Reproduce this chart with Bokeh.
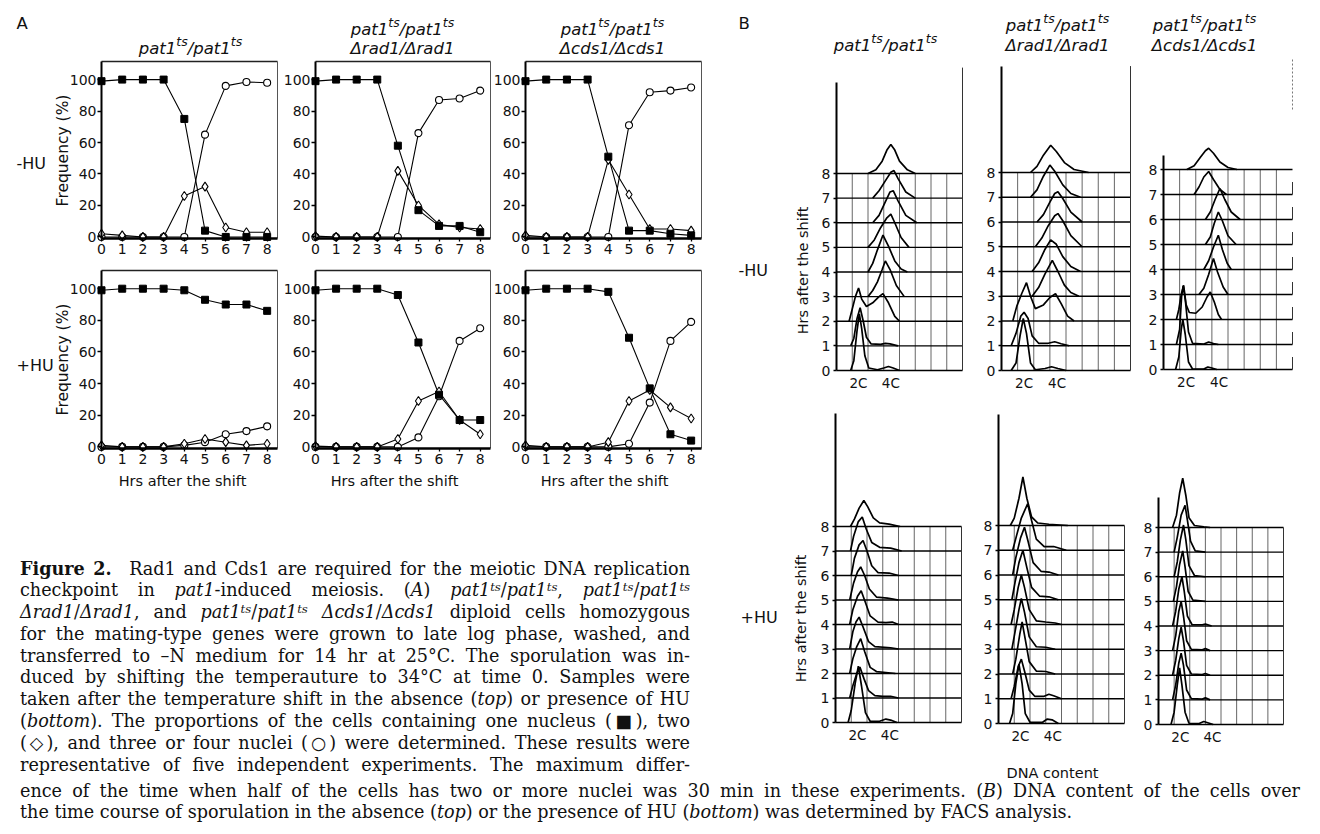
import math
from bokeh.plotting import figure
from bokeh.models import Range1d, LinearAxis, FixedTicker, Div
from bokeh.layouts import column, row
from bokeh.embed import file_html
from bokeh.resources import INLINE
from bokeh.core.properties import value

# ------------------------------------------------------------------ data
hours = [0, 1, 2, 3, 4, 5, 6, 7, 8]
freq_ticks = [0, 20, 40, 60, 80, 100]

# Panel A: % of cells with one nucleus (square), two (diamond), three/four (circle)
pat1_noHU_one = [99, 100, 100, 100, 75, 4, 0, 0, 0]
pat1_noHU_two = [2, 1, 0, 0, 26, 32, 6, 3, 3]
pat1_noHU_three = [0, 0, 0, 0, 0, 65, 96, 98.5, 98]
rad1_noHU_one = [99, 100, 100, 100, 58, 17, 7, 7, 3]
rad1_noHU_two = [0.5, 0, 0, 0, 42, 20, 8, 6, 5]
rad1_noHU_three = [0, 0, 0, 0, 0, 66, 87, 88, 93]
cds1_noHU_one = [99, 100, 100, 100, 51, 4, 4, 2, 1]
cds1_noHU_two = [1, 0, 0, 0, 49, 27, 5, 5, 4]
cds1_noHU_three = [0, 0, 0, 0, 0, 71, 92, 93, 95]
pat1_HU_one = [99, 100, 100, 100, 99, 93, 90, 90, 86]
pat1_HU_two = [1, 0, 0, 0, 2, 5, 3, 1, 2]
pat1_HU_three = [0, 0, 0, 0, 1, 3, 8, 10, 13]
rad1_HU_one = [99, 100, 100, 100, 96, 66, 33, 17, 17]
rad1_HU_two = [0.5, 0, 0, 0, 5, 29, 35, 17, 8]
rad1_HU_three = [0, 0, 0, 0, 0, 6, 32, 67, 75]
cds1_HU_one = [99, 100, 100, 100, 98, 69, 37, 8, 4]
cds1_HU_two = [1, 0, 0, 0, 3, 29, 36, 25, 18]
cds1_HU_three = [0, 0, 0, 0, 0, 2, 28, 67, 79]

# Panel B: FACS profiles, one curve per hour (0..8); points are (DNA content, height)
facs_hours = [0, 1, 2, 3, 4, 5, 6, 7, 8]
dna_grid = [0, 1, 2, 3, 4, 5, 6, 7, 8]
dna_ticks = [1.4, 3.45]
dna_labels = ["2C", "4C"]

facs_pat1_noHU = [
    [(0.9, 0), (1.1, 0.4), (1.3, 1.6), (1.45, 2.3), (1.6, 1.7), (1.8, 0.6), (2.05, 0.1), (2.6, 0.03), (3.0, 0.1), (3.3, 0.16), (3.6, 0.1), (4.0, 0)],
    [(0.9, 0), (1.1, 0.3), (1.3, 1.1), (1.5, 1.55), (1.7, 1.0), (1.9, 0.35), (2.2, 0.08), (2.8, 0.06), (3.1, 0.1), (3.4, 0.08), (3.9, 0)],
    [(0.8, 0), (1.0, 0.5), (1.2, 1.0), (1.4, 1.35), (1.6, 0.9), (1.9, 0.6), (2.3, 0.75), (2.7, 1.0), (2.95, 1.12), (3.3, 0.75), (3.7, 0.2), (4.0, 0)],
    [(2.0, 0), (2.3, 0.25), (2.6, 0.6), (2.9, 1.1), (3.1, 1.45), (3.4, 1.1), (3.8, 0.45), (4.3, 0)],
    [(2.0, 0), (2.3, 0.35), (2.6, 0.9), (2.95, 1.5), (3.3, 1.05), (3.7, 0.45), (4.1, 0.12), (4.5, 0)],
    [(2.0, 0), (2.4, 0.3), (2.8, 0.8), (3.2, 1.2), (3.45, 1.35), (3.7, 1.0), (4.1, 0.4), (4.6, 0)],
    [(2.3, 0), (2.7, 0.3), (3.1, 0.85), (3.4, 1.25), (3.6, 1.3), (3.9, 0.9), (4.4, 0.3), (5.1, 0)],
    [(2.3, 0), (2.7, 0.3), (3.1, 0.7), (3.45, 1.05), (3.65, 1.12), (3.9, 0.8), (4.4, 0.25), (5.0, 0)],
    [(2.0, 0), (2.5, 0.15), (2.9, 0.5), (3.2, 0.95), (3.45, 1.18), (3.7, 0.95), (4.0, 0.5), (4.5, 0.15), (5.0, 0)],
]
facs_rad1_noHU = [
    [(0.6, 0), (0.9, 0.3), (1.15, 1.4), (1.35, 2.1), (1.55, 1.5), (1.8, 0.3), (2.1, 0.03), (2.7, 0.08), (3.1, 0.15), (3.5, 0.08), (4.0, 0)],
    [(0.6, 0), (0.9, 0.5), (1.2, 1.2), (1.4, 1.35), (1.65, 1.1), (1.9, 0.4), (2.3, 0.1), (2.9, 0.1), (3.3, 0.16), (3.7, 0.08), (4.2, 0)],
    [(0.7, 0), (0.95, 0.6), (1.25, 1.1), (1.55, 1.55), (1.8, 1.0), (2.1, 0.5), (2.6, 0.65), (3.0, 0.95), (3.35, 1.1), (3.7, 0.7), (4.1, 0.2), (4.5, 0)],
    [(1.9, 0), (2.3, 0.35), (2.7, 0.9), (3.15, 1.45), (3.5, 1.0), (3.9, 0.45), (4.3, 0.15), (4.8, 0)],
    [(1.9, 0), (2.3, 0.35), (2.7, 0.9), (3.05, 1.28), (3.4, 1.1), (3.8, 0.6), (4.3, 0.2), (4.9, 0)],
    [(2.1, 0), (2.5, 0.35), (2.9, 0.85), (3.3, 1.25), (3.5, 1.34), (3.8, 1.05), (4.3, 0.45), (5.0, 0)],
    [(2.2, 0), (2.6, 0.3), (3.0, 0.8), (3.3, 1.15), (3.5, 1.22), (3.8, 0.95), (4.3, 0.4), (5.0, 0)],
    [(1.8, 0), (2.2, 0.3), (2.6, 0.85), (3.0, 1.3), (3.3, 1.05), (3.8, 0.5), (4.3, 0.15), (4.9, 0)],
    [(1.8, 0), (2.2, 0.25), (2.6, 0.7), (3.05, 1.1), (3.4, 0.85), (3.9, 0.4), (4.5, 0.12), (5.4, 0)],
]
facs_cds1_noHU = [
    [(0.75, 0), (0.95, 0.5), (1.1, 1.6), (1.2, 2.0), (1.35, 1.4), (1.55, 0.3), (1.8, 0.02), (2.5, 0.02), (2.75, 0.1), (3.0, 0.06), (3.3, 0)],
    [(0.8, 0), (1.0, 0.6), (1.12, 1.9), (1.22, 2.35), (1.35, 1.8), (1.55, 0.5), (1.8, 0.05), (2.5, 0.02), (2.8, 0.1), (3.1, 0.04), (3.4, 0)],
    [(0.8, 0), (0.95, 0.4), (1.1, 1.0), (1.25, 1.37), (1.4, 0.6), (1.6, 0.28), (2.0, 0.25), (2.4, 0.5), (2.7, 0.9), (2.9, 1.1), (3.15, 0.7), (3.4, 0.2), (3.6, 0)],
    [(2.2, 0), (2.5, 0.25), (2.8, 0.8), (3.1, 1.44), (3.35, 0.9), (3.7, 0.3), (4.0, 0)],
    [(2.5, 0), (2.8, 0.35), (3.1, 0.9), (3.4, 1.37), (3.65, 0.8), (3.95, 0.25), (4.2, 0)],
    [(2.6, 0), (2.9, 0.3), (3.15, 0.85), (3.4, 1.3), (3.65, 0.95), (4.0, 0.35), (4.5, 0)],
    [(2.6, 0), (2.9, 0.3), (3.2, 0.8), (3.5, 1.24), (3.8, 0.8), (4.2, 0.3), (4.75, 0)],
    [(1.9, 0), (2.2, 0.3), (2.5, 0.7), (2.8, 0.92), (3.1, 0.6), (3.5, 0.2), (3.9, 0)],
    [(1.45, 0), (1.9, 0.15), (2.3, 0.5), (2.6, 0.75), (2.8, 0.85), (3.1, 0.65), (3.5, 0.3), (4.0, 0.08), (4.55, 0)],
]
facs_pat1_HU = [
    [(0.8, 0), (1.0, 0.5), (1.25, 1.6), (1.45, 2.3), (1.65, 1.5), (1.9, 0.4), (2.2, 0.05), (2.8, 0.05), (3.2, 0.14), (3.5, 0.1), (3.9, 0)],
    [(0.9, 0), (1.1, 0.5), (1.35, 1.0), (1.55, 1.26), (1.8, 0.8), (2.1, 0.3), (2.5, 0.1), (3.0, 0.07), (3.5, 0.07), (4.0, 0)],
    [(0.9, 0), (1.1, 0.6), (1.35, 1.1), (1.6, 1.42), (1.85, 0.9), (2.2, 0.25), (2.6, 0.08), (3.2, 0.04), (3.8, 0)],
    [(0.9, 0), (1.1, 0.7), (1.3, 1.1), (1.5, 1.3), (1.75, 0.9), (2.1, 0.3), (2.5, 0.1), (3.5, 0.05), (4.0, 0)],
    [(0.9, 0), (1.1, 0.6), (1.4, 1.15), (1.63, 1.38), (1.9, 0.9), (2.2, 0.35), (2.7, 0.1), (3.2, 0.08), (3.6, 0.1), (4.0, 0)],
    [(0.9, 0), (1.15, 0.7), (1.4, 1.15), (1.6, 1.35), (1.85, 1.0), (2.15, 0.45), (2.6, 0.12), (3.3, 0.08), (4.0, 0)],
    [(1.0, 0), (1.2, 0.7), (1.5, 1.25), (1.75, 1.43), (2.0, 1.0), (2.3, 0.4), (2.7, 0.12), (3.4, 0.1), (4.0, 0)],
    [(0.95, 0), (1.15, 0.6), (1.45, 1.2), (1.7, 1.39), (1.95, 0.9), (2.3, 0.35), (2.8, 0.15), (3.5, 0.12), (4.2, 0)],
    [(0.95, 0), (1.2, 0.3), (1.5, 0.75), (1.8, 1.06), (2.05, 0.8), (2.4, 0.35), (2.8, 0.15), (3.4, 0.1), (4.1, 0)],
]
facs_rad1_HU = [
    [(0.7, 0), (0.9, 0.4), (1.1, 1.6), (1.3, 2.4), (1.5, 1.6), (1.7, 0.4), (2.0, 0.05), (2.8, 0.05), (3.1, 0.18), (3.4, 0.15), (3.8, 0)],
    [(0.8, 0), (1.0, 0.5), (1.25, 1.3), (1.45, 1.6), (1.7, 1.0), (1.95, 0.35), (2.3, 0.1), (2.9, 0.1), (3.2, 0.18), (3.5, 0.12), (4.0, 0)],
    [(0.9, 0), (1.1, 0.6), (1.35, 1.6), (1.5, 2.1), (1.7, 1.4), (1.95, 0.5), (2.4, 0.12), (3.0, 0.1), (3.6, 0)],
    [(0.85, 0), (1.05, 0.7), (1.3, 1.6), (1.45, 2.05), (1.65, 1.5), (1.95, 0.5), (2.4, 0.1), (3.0, 0.08), (3.6, 0)],
    [(0.8, 0), (1.0, 0.6), (1.25, 1.5), (1.45, 2.0), (1.65, 1.5), (1.95, 0.6), (2.4, 0.15), (3.0, 0.1), (3.6, 0.06), (4.0, 0)],
    [(0.85, 0), (1.05, 0.7), (1.3, 1.5), (1.55, 2.0), (1.8, 1.3), (2.1, 0.5), (2.6, 0.15), (3.2, 0.12), (3.8, 0)],
    [(0.9, 0), (1.1, 0.7), (1.4, 1.5), (1.65, 1.93), (1.9, 1.3), (2.2, 0.5), (2.7, 0.15), (3.2, 0.12), (3.8, 0)],
    [(0.9, 0), (1.15, 0.6), (1.45, 1.3), (1.85, 1.88), (2.1, 1.2), (2.4, 0.45), (2.9, 0.15), (3.5, 0.15), (4.3, 0)],
    [(0.75, 0), (1.0, 0.3), (1.3, 1.1), (1.55, 1.96), (1.8, 1.1), (2.1, 0.35), (2.5, 0.1), (3.2, 0.05), (4.4, 0)],
]
facs_cds1_HU = [
    [(0.8, 0), (1.0, 0.5), (1.2, 1.6), (1.35, 2.3), (1.5, 1.6), (1.7, 0.5), (1.95, 0.05), (2.6, 0.04), (2.9, 0.12), (3.2, 0.06), (3.5, 0)],
    [(0.9, 0), (1.1, 0.6), (1.3, 1.5), (1.45, 1.9), (1.6, 1.4), (1.8, 0.4), (2.1, 0.05), (2.8, 0.03), (3.0, 0.08), (3.3, 0)],
    [(0.9, 0), (1.1, 0.6), (1.3, 1.5), (1.45, 1.95), (1.6, 1.4), (1.8, 0.4), (2.1, 0.05), (2.8, 0.03), (3.0, 0.07), (3.3, 0)],
    [(0.9, 0), (1.1, 0.6), (1.3, 1.6), (1.45, 2.0), (1.6, 1.4), (1.8, 0.4), (2.1, 0.05), (2.8, 0.03), (3.0, 0.08), (3.3, 0)],
    [(0.9, 0), (1.1, 0.6), (1.3, 1.5), (1.5, 2.0), (1.65, 1.4), (1.85, 0.4), (2.15, 0.05), (2.8, 0.05), (3.0, 0.08), (3.4, 0)],
    [(0.95, 0), (1.15, 0.6), (1.35, 1.5), (1.55, 2.05), (1.7, 1.4), (1.9, 0.4), (2.2, 0.05), (3.0, 0)],
    [(1.0, 0), (1.2, 0.6), (1.4, 1.5), (1.6, 2.1), (1.75, 1.5), (1.95, 0.45), (2.3, 0.05), (3.0, 0)],
    [(1.0, 0), (1.2, 0.6), (1.45, 1.5), (1.7, 1.9), (1.85, 1.3), (2.05, 0.45), (2.35, 0.05), (3.0, 0)],
    [(0.9, 0), (1.15, 0.5), (1.35, 1.4), (1.55, 2.0), (1.75, 1.3), (1.95, 0.4), (2.3, 0.08), (2.9, 0.03), (3.3, 0)],
]

# ------------------------------------------------------------------ style / layout
SANS = "DejaVu Sans"
SERIF = "DejaVu Serif"
INK = "#111111"
WA, HA = 728, 548      # panel A canvas  (page px 0..728, 0..548)
WB, HB = 584, 779      # panel B canvas  (page px 728..1312, 0..779)
CAPL_H, CAPF_H = 231, 44

A_cols = [(101, 277), (315, 490), (525, 701)]
A_rows = [(61, 238), (270, 448)]
A_xdom = (0, 8.5)
A_ydom = (-1, 111.5)


def sub_ranges(cw, ch, ox, oy, L, R, T, B, xd, yd):
    l, r, t, b = L - ox, R - ox, T - oy, B - oy
    sx = (r - l) / (xd[1] - xd[0])
    sy = (b - t) / (yd[1] - yd[0])
    xr = Range1d(start=xd[0] - l / sx, end=xd[0] + (cw - l) / sx)
    yr = Range1d(start=yd[0] - (ch - b) / sy, end=yd[1] + t / sy)
    return xr, yr


def canvas(w, h):
    p = figure(width=w, height=h, x_range=Range1d(0, w), y_range=Range1d(h, 0),
               toolbar_location=None, output_backend="svg", min_border=0,
               x_axis_location=None, y_axis_location=None, title_location=None,
               outline_line_color=None, background_fill_color="white",
               border_fill_color="white", margin=0)
    p.grid.visible = False
    return p


def txt(p, x, y, s, size, align="left", baseline="middle", style="normal", angle=0.0, font=SANS):
    p.text(x=[x], y=[y], text=[s], text_font=value(font), text_font_size=value(f"{size}px"),
           text_font_style=style, text_align=align, text_baseline=baseline,
           angle=angle, text_color=INK)


ADV = {'p': 0.635, 'a': 0.613, 't': 0.392, '1': 0.636, 's': 0.521, '/': 0.337}


def pat_title(p, cx, base_y, fs=16.5, fss=12.5, raise_px=7):
    segs = [("pat1", fs, 0), ("ts", fss, -raise_px), ("/pat1", fs, 0), ("ts", fss, -raise_px)]
    total = sum(sum(ADV[c] for c in s) * f for s, f, _ in segs)
    x = cx - total / 2
    for s, f, dy in segs:
        txt(p, x, base_y + dy, s, f, baseline="alphabetic", style="italic")
        x += sum(ADV[c] for c in s) * f


# ------------------------------------------------------------------ panel A
pA = canvas(WA, HA)
A_series = [
    [(pat1_noHU_one, pat1_noHU_two, pat1_noHU_three),
     (rad1_noHU_one, rad1_noHU_two, rad1_noHU_three),
     (cds1_noHU_one, cds1_noHU_two, cds1_noHU_three)],
    [(pat1_HU_one, pat1_HU_two, pat1_HU_three),
     (rad1_HU_one, rad1_HU_two, rad1_HU_three),
     (cds1_HU_one, cds1_HU_two, cds1_HU_three)],
]
exx, exy = {}, {}
for ri, (T, B) in enumerate(A_rows):
    for ci, (L, R) in enumerate(A_cols):
        nm = f"a{ri}{ci}"
        exx[nm], exy[nm] = sub_ranges(WA, HA, 0, 0, L, R, T, B, A_xdom, A_ydom)
pA.extra_x_ranges = exx
pA.extra_y_ranges = exy

for ri in range(2):
    for ci in range(3):
        nm = f"a{ri}{ci}"
        kw = dict(x_range_name=nm, y_range_name=nm)
        one, two, three = A_series[ri][ci]
        # frame top / right
        pA.segment(x0=[A_xdom[0], A_xdom[1]], y0=[A_ydom[1], A_ydom[0]],
                   x1=[A_xdom[1], A_xdom[1]], y1=[A_ydom[1], A_ydom[1]],
                   line_color=["#222222", "#555555"], line_width=[1.4, 1.0], **kw)
        for ser in (three, two, one):
            pA.line(hours, ser, line_color="black", line_width=1.1, **kw)
        pA.scatter(hours, three, marker="circle", size=7, fill_color="white",
                   line_color="black", line_width=1.1, **kw)
        pA.scatter(hours, two, marker="diamond", size=9, fill_color="white",
                   line_color="black", line_width=1.1, **kw)
        pA.scatter(hours, one, marker="square", size=7, fill_color="black",
                   line_color="black", **kw)
        xax = LinearAxis(x_range_name=nm, y_range_name=nm, fixed_location=A_ydom[0],
                         bounds=A_xdom, ticker=FixedTicker(ticks=hours, minor_ticks=[]),
                         axis_line_width=2.5, axis_line_color="black",
                         major_tick_out=3, major_tick_in=0, major_tick_line_width=1.3,
                         minor_tick_out=0, major_label_standoff=2,
                         major_label_text_font=SANS, major_label_text_font_size="14px",
                         major_label_text_color=INK)
        pA.add_layout(xax, "below")
        yax = LinearAxis(x_range_name=nm, y_range_name=nm, fixed_location=A_xdom[0],
                         bounds=A_ydom, ticker=FixedTicker(ticks=freq_ticks, minor_ticks=[]),
                         axis_line_width=2, axis_line_color="black",
                         major_tick_out=4, major_tick_in=0, major_tick_line_width=1.3,
                         minor_tick_out=0, major_label_standoff=1,
                         major_label_text_font=SANS, major_label_text_font_size="14px",
                         major_label_text_color=INK)
        pA.add_layout(yax, "left")

# texts of panel A (canvas px = page px)
txt(pA, 16, 23, "A", 16.5)
pat_title(pA, 190, 48)
pat_title(pA, 402, 29)
txt(pA, 402, 48, "\u0394rad1/\u0394rad1", 16.5, align="center", baseline="alphabetic", style="italic")
pat_title(pA, 612, 29)
txt(pA, 612, 48, "\u0394cds1/\u0394cds1", 16.5, align="center", baseline="alphabetic", style="italic")
txt(pA, 16, 163, "-HU", 16)
txt(pA, 16, 365, "+HU", 16)
txt(pA, 62, 150, "Frequency (%)", 15.5, align="center", angle=math.pi / 2)
txt(pA, 62, 359, "Frequency (%)", 15.5, align="center", angle=math.pi / 2)
for cx in (182, 394, 604):
    txt(pA, cx, 480, "Hrs after the shift", 14.5, align="center")

# ------------------------------------------------------------------ panel B
pB = canvas(WB, HB)
B_geom = [
    ("b00", facs_pat1_noHU, 836, 962, 370, 173, 11.7, [(0, 12.3)]),
    ("b01", facs_rad1_noHU, 1001, 1130, 370, 172, 12.3, [(0, 12.3)]),
    ("b02", facs_cds1_noHU, 1163, 1292, 369, 169, 8.55, [(k, k + 0.5) for k in range(8)]),
    ("b10", facs_pat1_HU, 835, 961, 722, 526, 12.6, [(0, 8)]),
    ("b11", facs_rad1_HU, 998, 1124, 723, 525, 12.5, [(0, 8)]),
    ("b12", facs_cds1_HU, 1158, 1283, 724, 527, 9.2, [(0, 8)]),
]
OXB, OYB = 728, 0
exx, exy = {}, {}
for nm, _, L, R, y0, y8, _, _ in B_geom:
    exx[nm], exy[nm] = sub_ranges(WB, HB, OXB, OYB, L, R, y8, y0, (0, 8), (0, 8))
pB.extra_x_ranges = exx
pB.extra_y_ranges = exy

for nm, curves, L, R, y0, y8, ltop, rsegs in B_geom:
    kw = dict(x_range_name=nm, y_range_name=nm)
    inner = dna_grid[1:-1]
    pB.segment(x0=inner, y0=[0] * len(inner), x1=inner, y1=[8] * len(inner),
               line_color="#555555", line_width=0.9, **kw)
    pB.segment(x0=[0] * len(facs_hours), y0=facs_hours, x1=[8] * len(facs_hours),
               y1=facs_hours, line_color="black", line_width=1.4, **kw)
    pB.segment(x0=[8] * len(rsegs), y0=[a for a, b in rsegs], x1=[8] * len(rsegs),
               y1=[b for a, b in rsegs], line_color="#333333", line_width=1.0, **kw)
    xs = [[u for u, h in c] for c in curves]
    ys = [[k + h for u, h in c] for k, c in zip(facs_hours, curves)]
    pB.multi_line(xs, ys, line_color="black", line_width=1.7, **kw)
    yax = LinearAxis(x_range_name=nm, y_range_name=nm, fixed_location=0, bounds=(0, ltop),
                     ticker=FixedTicker(ticks=facs_hours, minor_ticks=[]),
                     axis_line_width=2, axis_line_color="black",
                     major_tick_out=3, major_tick_in=0, major_tick_line_width=1.3,
                     minor_tick_out=0, major_label_standoff=3,
                     major_label_text_font=SANS, major_label_text_font_size="14px",
                     major_label_text_color=INK)
    pB.add_layout(yax, "left")
    xax = LinearAxis(x_range_name=nm, y_range_name=nm, fixed_location=0, bounds=(0, 8),
                     ticker=FixedTicker(ticks=dna_ticks, minor_ticks=[]),
                     major_label_overrides={t: s for t, s in zip(dna_ticks, dna_labels)},
                     axis_line_color=None, major_tick_line_color=None,
                     major_tick_out=0, major_tick_in=0, minor_tick_out=0,
                     major_label_standoff=4,
                     major_label_text_font=SANS, major_label_text_font_size="13.5px",
                     major_label_text_color=INK)
    pB.add_layout(xax, "below")

# faint dashed upper part of the right border of the third -HU profile
pB.segment(x0=[8], y0=[10.4], x1=[8], y1=[12.4], line_color="#777777", line_width=1,
           line_dash="2 2", x_range_name="b02", y_range_name="b02")

txt(pB, 738 - OXB, 23 - OYB, "B", 16.5)
pat_title(pB, 885 - OXB, 45 - OYB)
pat_title(pB, 1057 - OXB, 25 - OYB)
txt(pB, 1057 - OXB, 45 - OYB, "\u0394rad1/\u0394rad1", 16.5, align="center", baseline="alphabetic", style="italic")
pat_title(pB, 1204 - OXB, 25 - OYB)
txt(pB, 1204 - OXB, 45 - OYB, "\u0394cds1/\u0394cds1", 16.5, align="center", baseline="alphabetic", style="italic")
txt(pB, 738 - OXB, 270 - OYB, "-HU", 16)
txt(pB, 740 - OXB, 617 - OYB, "+HU", 16)
txt(pB, 802 - OXB, 270 - OYB, "Hrs after the shift", 14.5, align="center", angle=math.pi / 2)
txt(pB, 800 - OXB, 618 - OYB, "Hrs after the shift", 14.5, align="center", angle=math.pi / 2)
txt(pB, 1052 - OXB, 772 - OYB, "DNA content", 14.5, align="center")

# ------------------------------------------------------------------ caption
PT = "<i>pat1<sup>ts</sup></i>"
capL_lines = [
    "<b>Figure 2.</b>&ensp;&ensp;Rad1 and Cds1 are required for the meiotic DNA replication",
    f"checkpoint in <i>pat1</i>-induced meiosis. (<i>A</i>) {PT}/{PT}, {PT}/{PT}",
    f"<i>\u0394rad1</i>/<i>\u0394rad1</i>, and {PT}/{PT} <i>\u0394cds1</i>/<i>\u0394cds1</i> diploid cells homozygous",
    "for the mating-type genes were grown to late log phase, washed, and",
    "transferred to \u2013N medium for 14 hr at 25\u00b0C. The sporulation was in-",
    "duced by shifting the temperauture to 34\u00b0C at time 0. Samples were",
    "taken after the temperature shift in the absence (<i>top</i>) or presence of HU",
    "(<i>bottom</i>). The proportions of the cells containing one nucleus (\u25a0), two",
    "(\u25c7), and three or four nuclei (\u25cb) were determined. These results were",
    "representative of five independent experiments. The maximum differ-",
]
capF_lines = [
    "ence of the time when half of the cells has two or more nuclei was 30 min in these experiments. (<i>B</i>) DNA content of the cells over",
    "the time course of sporulation in the absence (<i>top</i>) or the presence of HU (<i>bottom</i>) was determined by FACS analysis.",
]
SUP_CSS = "<style>sup{font-size:0.66em;position:relative;top:-0.45em;vertical-align:baseline;line-height:0;}</style>"
BASE = f"font-family:'{SERIF}';font-size:17.6px;line-height:21.8px;color:{INK};"
JUST = "white-space:nowrap;text-align:justify;text-align-last:justify;"
LEFT = "white-space:nowrap;text-align:left;"

htmlL = SUP_CSS + f'<div style="{BASE}padding-top:9.5px;margin-left:20px;width:670px;">' + \
    "".join(f'<div style="{JUST}">{s}</div>' for s in capL_lines) + "</div>"
htmlF = SUP_CSS + f'<div style="{BASE}padding-top:1.5px;margin-left:20px;width:1280px;">' + \
    f'<div style="{JUST}">{capF_lines[0]}</div>' + f'<div style="{LEFT}">{capF_lines[1]}</div>' + "</div>"

capL = Div(text=htmlL, width=WA, height=CAPL_H, margin=0)
capF = Div(text=htmlF, width=WA + WB, height=CAPF_H, margin=0)

root = column(row(column(pA, capL, spacing=0), pB, spacing=0), capF, spacing=0)

open("out.html", "w").write(file_html(root, INLINE))
